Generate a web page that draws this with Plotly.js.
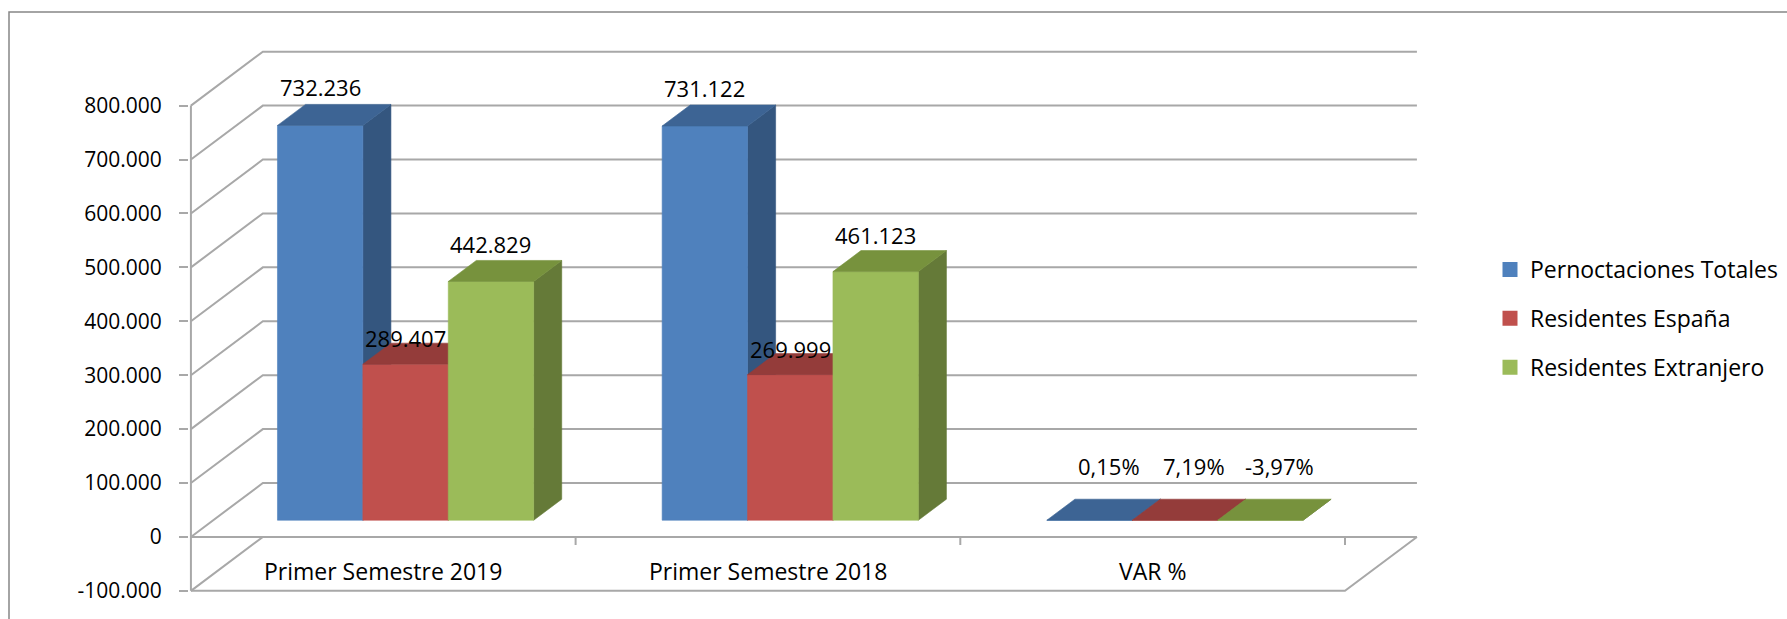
<!DOCTYPE html>
<html><head><meta charset="utf-8">
<script src="https://cdn.plot.ly/plotly-3.0.1.min.js"></script>
<style>html,body{margin:0;padding:0;background:#fff;} #chart{width:1787px;height:619px;}</style>
</head><body><div id="chart"></div>
<script>
// ---- data ----
const categories = ['Primer Semestre 2019', 'Primer Semestre 2018', 'VAR %'];
const seriesNames = ['Pernoctaciones Totales', 'Residentes España', 'Residentes Extranjero'];
const totales = [732236, 731122, 0.0015];
const espana = [289407, 269999, 0.0719];
const extranjero = [442829, 461123, -0.0397];
const yTickVals = [-100000, 0, 100000, 200000, 300000, 400000, 500000, 600000, 700000, 800000];
const yTickText = ['-100.000', '0', '100.000', '200.000', '300.000', '400.000', '500.000', '600.000', '700.000', '800.000'];
const pctCategory = 'VAR %';

// ---- style ----
const seriesValues = [totales, espana, extranjero];
const colors = [
  {front: '#4f81bd', top: '#3d6494', side: '#34567f'},
  {front: '#c0504d', top: '#943c3a', side: '#853331'},
  {front: '#9bbb59', top: '#77923d', side: '#657a38'}
];
const DX = 0.187;      // depth of the 3D box along x (category units)
const DY = 100000;     // depth of the 3D box along y (value units)
const F0 = 0.31, F1 = 0.70; // bar depth slice
const BARW = 0.222;
const GROUPOFF = (1 - 3 * BARW) / 2;
const gridColor = '#a8a8a8';
const FONT = 'Open Sans, Liberation Sans, sans-serif';
const labelLift = [38, 26, 37];   // px above the front top edge
const pctLift = 54, pctXShift = 0.05;

const traces = [];
// ---- walls / grid ----
const gx = [], gy = [];
yTickVals.forEach(v => {
  gx.push(0, DX, 3 + DX, null);
  gy.push(v, v + DY, v + DY, null);
});
gx.push(0, 3, 3 + DX, null); gy.push(-100000, -100000, 0, null);
gx.push(0, 0, null); gy.push(yTickVals[0], yTickVals[yTickVals.length - 1], null);
gx.push(0, categories.length, null); gy.push(0, 0, null);
for (let i = 1; i <= categories.length; i++) { gx.push(i, i, null); gy.push(0, -15000, null); }
traces.push({type: 'scatter', mode: 'lines', x: gx, y: gy, line: {color: gridColor, width: 2},
  hoverinfo: 'skip', showlegend: false});

function poly(xs, ys, color) {
  traces.push({type: 'scatter', mode: 'lines', x: xs.concat([xs[0]]), y: ys.concat([ys[0]]),
    fill: 'toself', fillcolor: color, line: {width: 0.6, color: color},
    hoverinfo: 'skip', showlegend: false});
}

const annotations = [];
function fmtNum(v) {
  return Math.round(v).toString().replace(/\B(?=(\d{3})+(?!\d))/g, '.');
}
function fmtPct(v) {
  return (v * 100).toFixed(2).replace('.', ',') + '%';
}

const a0x = F0 * DX, a0y = F0 * DY, a1x = F1 * DX, a1y = F1 * DY;
categories.forEach((cat, i) => {
  seriesValues.forEach((vals, s) => {
    const v = vals[i];
    const c = colors[s];
    const xl = i + GROUPOFF + s * BARW, xr = xl + BARW;
    poly([xr + a0x, xr + a1x, xr + a1x, xr + a0x], [a0y, a1y, v + a1y, v + a0y], c.side);
    poly([xl + a0x, xr + a0x, xr + a0x, xl + a0x], [a0y, a0y, v + a0y, v + a0y], c.front);
    poly([xl + a0x, xr + a0x, xr + a1x, xl + a1x], [v + a0y, v + a0y, v + a1y, v + a1y], c.top);
    const isPct = cat === pctCategory;
    annotations.push({
      x: xl + BARW / 2 + a0x + (isPct ? pctXShift : 0), y: v + a0y, xref: 'x', yref: 'y',
      text: isPct ? fmtPct(v) : fmtNum(v), showarrow: false,
      yanchor: 'middle', xanchor: 'center', yshift: isPct ? pctLift : labelLift[s],
      font: {family: FONT, size: 22, color: '#000'}
    });
  });
});

categories.forEach((cat, i) => {
  annotations.push({x: i + 0.5, y: -100000, xref: 'x', yref: 'y', text: cat, showarrow: false,
    yanchor: 'middle', xanchor: 'center', yshift: 20, font: {family: FONT, size: 23, color: '#000'}});
});

seriesNames.forEach((name, s) => {
  traces.push({type: 'bar', x: [null], y: [null], name: name, legendgroup: 'g' + s,
    marker: {color: colors[s].front, line: {color: colors[s].front, width: 3}},
    showlegend: true, hoverinfo: 'skip'});
});

const L = 189, R = 1420, T = 49, B = 593;
const W = 1787, H = 619;
const px2paperX = p => (p - L) / (R - L);
const px2paperY = p => (B - p) / (B - T);

const layout = {
  width: W, height: H,
  margin: {l: L, r: W - R, t: T, b: H - B, pad: 0, autoexpand: false},
  paper_bgcolor: '#fff', plot_bgcolor: 'rgba(0,0,0,0)',
  showlegend: true,
  xaxis: {type: 'linear', range: [-0.005, 3.195], visible: false, fixedrange: true},
  yaxis: {range: [-104000, 905000], tickvals: yTickVals, ticktext: yTickText,
    ticks: 'outside', ticklen: 9, tickwidth: 2, tickcolor: gridColor,
    showgrid: false, zeroline: false, showline: false, ticklabelstandoff: 13,
    tickfont: {family: FONT, size: 21, color: '#000'}, fixedrange: true},
  legend: {xref: 'container', yref: 'container', x: 1490 / W, y: 1 - 248 / H,
    xanchor: 'left', yanchor: 'top',
    font: {family: FONT, size: 23, color: '#000'}, tracegroupgap: 16,
    bgcolor: 'rgba(0,0,0,0)', borderwidth: 0},
  annotations: annotations,
  shapes: [{type: 'rect', xref: 'paper', yref: 'paper',
    x0: px2paperX(9), x1: px2paperX(1800), y0: px2paperY(640), y1: px2paperY(12),
    line: {color: '#868686', width: 1.5}, fillcolor: 'rgba(0,0,0,0)', layer: 'below'}],
  bargap: 0
};

Plotly.newPlot('chart', traces, layout, {displayModeBar: false, staticPlot: true});
</script>
</body></html>
